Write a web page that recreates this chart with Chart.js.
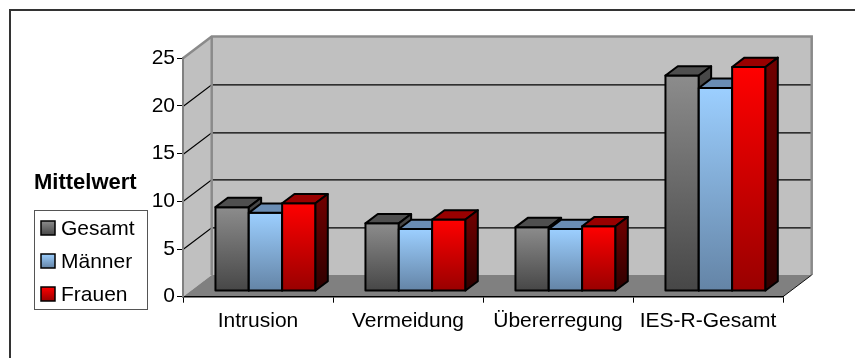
<!DOCTYPE html>
<html>
<head>
<meta charset="utf-8">
<script src="https://cdn.jsdelivr.net/npm/chart.js@4.4.0/dist/chart.umd.min.js"></script>
<style>
  html, body { margin: 0; padding: 0; background: #fff; }
  #wrap { width: 855px; height: 358px; }
</style>
</head>
<body>
<div id="wrap"><canvas id="c" width="855" height="358"></canvas></div>
<script>
// Mean IES-R scores by subscale and group
const categories = ['Intrusion', 'Vermeidung', 'Übererregung', 'IES-R-Gesamt'];
const seriesNames = ['Gesamt', 'Männer', 'Frauen'];
const gesamt  = [8.8, 7.1, 6.7, 22.6];
const maenner = [8.2, 6.5, 6.5, 21.3];
const frauen  = [9.2, 7.5, 6.8, 23.5];
const yTicks  = [0, 5, 10, 15, 20, 25];
const axisTitle = 'Mittelwert';

const FONT = "'Liberation Sans', Arial, sans-serif";

// 3-D look: offset of the back wall and the depth slot used by the columns
const DX = 28.7, DY = -21.7;
const BAR_Z0 = 0.26, BAR_Z1 = 0.69;

const faces = [
  { top: '#8c8c8c', bottom: '#474747', cap: '#4f4f4f', sideTop: '#4a4a4a', sideBottom: '#262626' },
  { top: '#9ccfff', bottom: '#6484a6', cap: '#6a8db4', sideTop: '#56779a', sideBottom: '#38526c' },
  { top: '#ff0000', bottom: '#990000', cap: '#990000', sideTop: '#720000', sideBottom: '#2e0000' }
];

function poly(ctx, pts) {
  ctx.beginPath();
  ctx.moveTo(pts[0][0], pts[0][1]);
  for (let k = 1; k < pts.length; k++) ctx.lineTo(pts[k][0], pts[k][1]);
  ctx.closePath();
}

const wallsPlugin = {
  id: 'walls',
  beforeDraw(chart) {
    const ctx = chart.ctx;
    const { left: L, right: R, top: T, bottom: B } = chart.chartArea;
    const ys = chart.scales.y;
    ctx.save();
    ctx.fillStyle = '#fff';
    ctx.fillRect(0, 0, chart.width, chart.height);

    // outer frame
    ctx.strokeStyle = '#333';
    ctx.lineWidth = 2;
    ctx.strokeRect(10, 10, chart.width + 20, chart.height + 20);

    // back wall
    ctx.fillStyle = '#c0c0c0';
    ctx.fillRect(L + DX, T + DY, R - L, B - T);
    // side wall
    poly(ctx, [[L, T], [L + DX, T + DY], [L + DX, B + DY], [L, B]]);
    ctx.fill();
    // floor
    ctx.fillStyle = '#808080';
    poly(ctx, [[L, B], [R, B], [R + DX, B + DY], [L + DX, B + DY]]);
    ctx.fill();

    // grid lines on side and back wall
    ctx.strokeStyle = '#000';
    ctx.lineWidth = 1.2;
    yTicks.forEach(v => {
      if (v === yTicks[0] || v === yTicks[yTicks.length - 1]) return;
      const yy = Math.round(ys.getPixelForValue(v)) + 0.5;
      ctx.beginPath();
      ctx.moveTo(L, yy);
      ctx.lineTo(L + DX, yy + DY);
      ctx.lineTo(R + DX, yy + DY);
      ctx.stroke();
    });

    // wall edges
    ctx.strokeStyle = '#8a8a8a';
    ctx.lineWidth = 2.5;
    ctx.beginPath();
    ctx.moveTo(L, T);
    ctx.lineTo(L + DX, T + DY);
    ctx.lineTo(R + DX, T + DY);
    ctx.lineTo(R + DX, B + DY);
    ctx.stroke();
    ctx.beginPath();
    ctx.moveTo(L + DX, T + DY);
    ctx.lineTo(L + DX, B + DY);
    ctx.stroke();

    // right floor edge
    ctx.strokeStyle = '#111';
    ctx.lineWidth = 1;
    ctx.beginPath();
    ctx.moveTo(R, B);
    ctx.lineTo(R + DX, B + DY);
    ctx.stroke();
    ctx.restore();
  }
};

const columnsPlugin = {
  id: 'columns3d',
  afterDatasetsDraw(chart) {
    const ctx = chart.ctx;
    const metas = chart.data.datasets.map((d, i) => chart.getDatasetMeta(i));
    const ox = BAR_Z0 * DX, oy = BAR_Z0 * DY;
    const bx = (BAR_Z1 - BAR_Z0) * DX, by = (BAR_Z1 - BAR_Z0) * DY;
    ctx.save();
    ctx.lineJoin = 'round';
    ctx.strokeStyle = '#000';
    ctx.lineWidth = 2;
    for (let j = 0; j < categories.length; j++) {
      for (let i = 0; i < metas.length; i++) {
        const el = metas[i].data[j];
        const p = el.getProps(['x', 'y', 'base', 'width'], true);
        const f = faces[i];
        const x0 = p.x - p.width / 2 + ox, x1 = p.x + p.width / 2 + ox;
        const yt = p.y + oy, yb = p.base + oy;

        // front face
        let g = ctx.createLinearGradient(0, yt, 0, yb);
        g.addColorStop(0, f.top);
        g.addColorStop(1, f.bottom);
        ctx.fillStyle = g;
        poly(ctx, [[x0, yt], [x1, yt], [x1, yb], [x0, yb]]);
        ctx.fill();
        ctx.stroke();

        // top face
        ctx.fillStyle = f.cap;
        poly(ctx, [[x0, yt], [x1, yt], [x1 + bx, yt + by], [x0 + bx, yt + by]]);
        ctx.fill();
        ctx.stroke();

        // right side face
        g = ctx.createLinearGradient(0, yt + by, 0, yb);
        g.addColorStop(0, f.sideTop);
        g.addColorStop(1, f.sideBottom);
        ctx.fillStyle = g;
        poly(ctx, [[x1, yt], [x1 + bx, yt + by], [x1 + bx, yb + by], [x1, yb]]);
        ctx.fill();
        ctx.stroke();
      }
    }
    ctx.restore();
  }
};

const legendPlugin = {
  id: 'boxLegend',
  afterDraw(chart) {
    const ctx = chart.ctx;
    ctx.save();
    ctx.fillStyle = '#000';
    ctx.textBaseline = 'alphabetic';
    ctx.font = 'bold 22px ' + FONT;
    ctx.fillText(axisTitle, 34, 189);

    // legend frame
    ctx.strokeStyle = '#555';
    ctx.lineWidth = 1;
    ctx.strokeRect(34.5, 210.5, 113, 99);

    ctx.font = '21px ' + FONT;
    chart.data.datasets.forEach((ds, i) => {
      const base = 235 + i * 33;
      const f = faces[i];
      const g = ctx.createLinearGradient(0, base - 14, 0, base);
      g.addColorStop(0, f.top);
      g.addColorStop(1, f.bottom);
      ctx.fillStyle = g;
      ctx.fillRect(41, base - 14, 14, 14);
      ctx.strokeStyle = '#000';
      ctx.lineWidth = 1.5;
      ctx.strokeRect(41, base - 14, 14, 14);
      ctx.fillStyle = '#000';
      ctx.fillText(ds.label, 61, base);
    });
    ctx.restore();
  }
};

const seriesData = [gesamt, maenner, frauen];

new Chart(document.getElementById('c'), {
  type: 'bar',
  data: {
    labels: categories,
    datasets: seriesNames.map((name, i) => ({
      label: name,
      data: seriesData[i],
      backgroundColor: 'rgba(0,0,0,0)',
      borderWidth: 0
    }))
  },
  options: {
    responsive: false,
    animation: false,
    devicePixelRatio: 1,
    events: [],
    layout: { padding: { top: 58.3, right: 72, left: 0, bottom: 0 } },
    datasets: { bar: { categoryPercentage: 2 / 3, barPercentage: 1 } },
    plugins: { legend: { display: false }, tooltip: { enabled: false } },
    scales: {
      x: {
        grid: { offset: true, drawOnChartArea: false, drawTicks: true, tickLength: 6, color: '#000' },
        border: { color: '#000', width: 1.5 },
        ticks: { color: '#000', font: { family: FONT, size: 21 }, padding: 6, maxRotation: 0, autoSkip: false },
        afterFit: s => { s.height = 358 - 296.7; }
      },
      y: {
        min: yTicks[0],
        max: yTicks[yTicks.length - 1],
        afterBuildTicks: s => { s.ticks = yTicks.map(v => ({ value: v })); },
        grid: { drawOnChartArea: false, drawTicks: true, tickLength: 6, color: '#000' },
        border: { color: '#808080', width: 2 },
        ticks: { color: '#000', font: { family: FONT, size: 21 }, padding: 2 },
        afterFit: s => { s.width = 183; }
      }
    }
  },
  plugins: [wallsPlugin, columnsPlugin, legendPlugin]
});
</script>
</body>
</html>
